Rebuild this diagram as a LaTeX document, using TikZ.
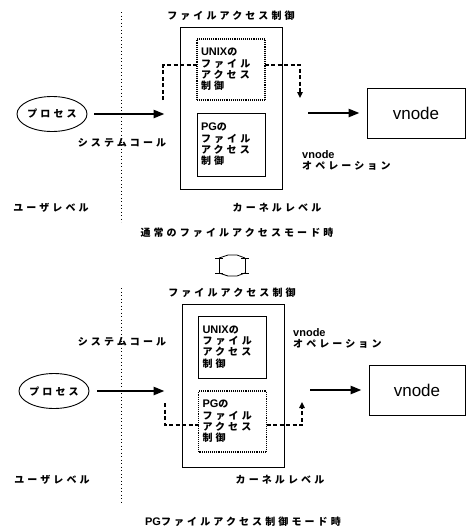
\documentclass[tikz,border=0pt]{standalone}
\usepackage{fontspec}
\usetikzlibrary{arrows.meta,shapes.geometric}
\newfontfamily\jpfam{Noto Sans CJK JP}[LetterSpace=31]
\newfontfamily\latfam{Liberation Sans}
\newcommand{\jpf}{\jpfam\bfseries\fontsize{10}{11.3}\selectfont}
\newcommand{\latb}[1]{{\latfam\bfseries\fontsize{11}{11}\selectfont #1}}
\begin{document}
\begin{tikzpicture}[x=1pt,y=-1pt,
  outer/.style={draw, line width=0.9pt, inner sep=0pt, minimum width=102pt},
  inbox/.style={draw, fill=white, line width=0.9pt, inner xsep=4pt, inner ysep=0pt, text width=60pt, align=left, font=\jpf},
  dotbox/.style={inbox, densely dotted, line width=1.1pt},
  proc/.style={draw, ellipse, line width=0.9pt, minimum width=70pt, minimum height=35pt, inner sep=0pt, font=\jpf},
  vbox/.style={draw, line width=0.9pt, minimum height=50pt, inner sep=0pt, font=\latfam\fontsize{17}{17}\selectfont},
  lbl/.style={inner sep=0pt, font=\jpf},
  vlbl/.style={inner sep=0pt, align=left, font=\jpf},
  bigarrow/.style={line width=2.4pt, -{Triangle[length=11pt,width=8pt]}},
  dasharrow/.style={line width=2pt, dash pattern=on 4pt off 2.5pt, -{Triangle[length=6pt,width=5.5pt]}},
  levelline/.style={line width=1pt, dash pattern=on 0.9pt off 2.6pt},
  sym/.style={line width=0.8pt}]
\useasboundingbox (0,0) rectangle (467,528);

% ---------- top diagram ----------
\draw[levelline] (121,12) -- (121,222);
\node[lbl] (titleA) at (231,16) {ファイルアクセス制御};
\node[outer, minimum height=162pt] (outerA) at (231,108) {};
\coordinate (dA1) at (163,100);
\coordinate (dA2) at (163,65);
\coordinate (dA3) at (300,65);
\coordinate (dA4) at (300,98);
\draw[dasharrow] (dA1) -- (dA2) -- (dA3) -- (dA4);
\node[dotbox, minimum height=61pt] (unixA) at (231,69.5) {\latb{UNIX}の\\ファイル\\アクセス\\制御};
\node[inbox, minimum height=63pt] (pgA) at (231,144.5) {\latb{PG}の\\ファイル\\アクセス\\制御};
\node[proc] (procA) at (52,114) {プロセス};
\node[vbox, minimum width=98pt] (vnodeA) at (416,113) {vnode};
\node[lbl] (syscallA) at (122,143) {システムコール};
\node[vlbl, anchor=north west] (vopA) at (302,150) {\latb{vnode}\\オペレーション};
\node[lbl] (userA) at (51,208) {ユーザレベル};
\node[lbl] (kernelA) at (277,208) {カーネルレベル};
\node[lbl] (captionA) at (237,233) {通常のファイルアクセスモード時};

\draw[bigarrow, shorten <=7pt, shorten >=15pt] (procA.east) -- (procA.east -| outerA.west);
\draw[bigarrow, shorten <=26pt, shorten >=7pt] (vnodeA.west -| outerA.east) -- (vnodeA.west);

% ---------- switch symbol ----------
\draw[sym] (215,258) -- (223,258) (219,258) -- (219,273) (215,273) -- (223,273);
\draw[sym] (241,258) -- (249,258) (245,258) -- (245,273) (241,273) -- (249,273);
\draw[sym] (219,258) -- (228,255) -- (237,255) -- (245,258);
\draw[sym] (219,273) -- (228,276) -- (237,276) -- (245,273);

% ---------- bottom diagram ----------
\draw[levelline] (121,288) -- (121,502);
\node[lbl] (titleB) at (232,293) {ファイルアクセス制御};
\node[outer, minimum height=163pt] (outerB) at (233,385.5) {};
\coordinate (dB1) at (165,403);
\coordinate (dB2) at (165,425);
\coordinate (dB3) at (302,425);
\coordinate (dB4) at (302,402);
\draw[dasharrow] (dB1) -- (dB2) -- (dB3) -- (dB4);
\node[inbox, minimum height=62pt] (unixB) at (232.5,347) {\latb{UNIX}の\\ファイル\\アクセス\\制御};
\node[dotbox, minimum height=61pt] (pgB) at (232.5,421.5) {\latb{PG}の\\ファイル\\アクセス\\制御};
\node[proc] (procB) at (54,391) {プロセス};
\node[vbox, minimum width=96pt] (vnodeB) at (417,390) {vnode};
\node[lbl] (syscallB) at (122,342) {システムコール};
\node[vlbl, anchor=north west] (vopB) at (293,328) {\latb{vnode}\\オペレーション};
\node[lbl] (userB) at (52,480) {ユーザレベル};
\node[lbl] (kernelB) at (280,480) {カーネルレベル};
\node[lbl] (captionB) at (243,522) {\latb{PG}ファイルアクセス制御モード時};

\draw[bigarrow, shorten <=8pt, shorten >=17pt] (procB.east) -- (procB.east -| outerB.west);
\draw[bigarrow, shorten <=26pt, shorten >=7pt] (vnodeB.west -| outerB.east) -- (vnodeB.west);
\end{tikzpicture}
\end{document}
